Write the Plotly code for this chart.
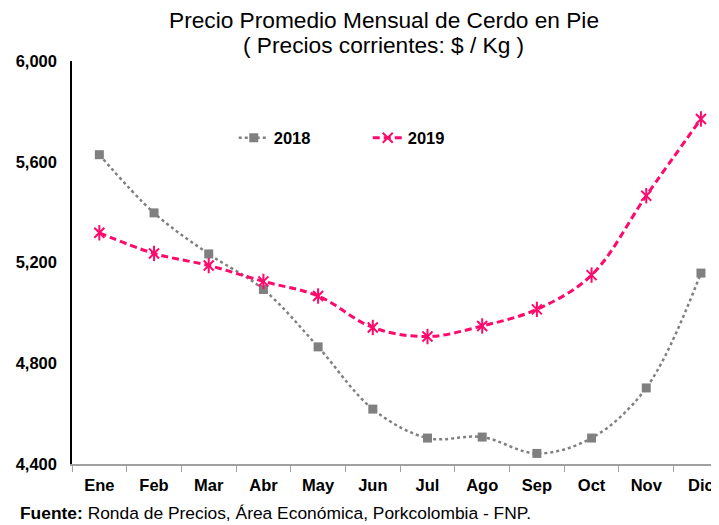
import plotly.graph_objects as go

# Meses y precios promedio ($/Kg)
meses = ["Ene", "Feb", "Mar", "Abr", "May", "Jun", "Jul", "Ago", "Sep", "Oct", "Nov", "Dic"]
precio_2018 = [5628, 5397, 5234, 5093, 4865, 4618, 4503, 4507, 4442, 4503, 4702, 5158]
precio_2019 = [5318, 5236, 5188, 5125, 5067, 4942, 4906, 4948, 5014, 5150, 5465, 5770]
y_ticks = [4400, 4800, 5200, 5600, 6000]

GRIS = "#808080"
ROSA = "#FF0A6C"
FUENTE = "Liberation Sans, Arial, sans-serif"

fig = go.Figure()

# 2018: gris punteado con cuadrados
fig.add_trace(
    go.Scatter(
        x=meses,
        y=precio_2018,
        mode="lines+markers",
        name="2018",
        line=dict(color=GRIS, width=2.5, dash="dot", shape="spline", smoothing=1),
        marker=dict(symbol="square", size=9, color=GRIS),
    )
)

# 2019: rosa discontinuo con asteriscos
fig.add_trace(
    go.Scatter(
        x=meses,
        y=precio_2019,
        mode="lines+markers",
        name="2019",
        line=dict(color=ROSA, width=3, dash="7px,4px", shape="spline", smoothing=1),
        marker=dict(symbol="x-thin-open", size=10, color=ROSA, line=dict(color=ROSA, width=2)),
    )
)
# brazo vertical del asterisco
fig.add_trace(
    go.Scatter(
        x=meses,
        y=precio_2019,
        mode="markers",
        showlegend=False,
        hoverinfo="skip",
        marker=dict(symbol="line-ns-open", size=11, color=ROSA, line=dict(color=ROSA, width=2)),
    )
)

# titulo en dos lineas + fuente
textos = [
    dict(text="Precio Promedio Mensual de Cerdo en Pie", x=0.482, y=1.1017, size=22.7),
    dict(text="( Precios corrientes: $ / Kg )", x=0.482, y=1.0397, size=22.7),
]
anotaciones = [
    dict(
        text=t["text"],
        xref="paper",
        yref="paper",
        x=t["x"],
        y=t["y"],
        xanchor="center",
        yanchor="middle",
        showarrow=False,
        font=dict(size=t["size"]),
    )
    for t in textos
]
anotaciones.append(
    dict(
        text="<b>Fuente:</b> Ronda de Precios, Área Económica, Porkcolombia - FNP.",
        xref="paper",
        yref="paper",
        x=-0.0835,
        y=-0.1216,
        xanchor="left",
        yanchor="middle",
        showarrow=False,
        font=dict(size=17.4),
    )
)

fig.update_layout(
    width=711,
    height=517,
    paper_bgcolor="white",
    plot_bgcolor="white",
    font=dict(family=FUENTE, color="black"),
    margin=dict(l=64, r=0, t=53, b=61),
    xaxis=dict(
        type="category",
        range=[-0.5, 11.33],
        showline=True,
        linecolor="#A0A0A0",
        linewidth=1.5,
        ticks="outside",
        tickson="boundaries",
        ticklen=6,
        tickcolor="#A0A0A0",
        showgrid=False,
        ticklabelstandoff=5,
        ticklabeloverflow="allow",
        tickfont=dict(size=16.5, family=FUENTE, weight="bold"),
    ),
    yaxis=dict(
        range=[4400, 6000],
        tickvals=y_ticks,
        tickformat=",d",
        showline=True,
        linecolor="black",
        linewidth=1.5,
        showgrid=False,
        zeroline=False,
        ticks="",
        ticklabelstandoff=10,
        tickfont=dict(size=16.5, family=FUENTE, weight="bold"),
    ),
    legend=dict(
        orientation="h",
        x=0.25,
        y=0.809,
        xanchor="left",
        yanchor="middle",
        font=dict(size=16.5, weight="bold"),
        bgcolor="rgba(0,0,0,0)",
        entrywidth=89,
        entrywidthmode="pixels",
    ),
    annotations=anotaciones,
)

fig.write_html("out.html")
